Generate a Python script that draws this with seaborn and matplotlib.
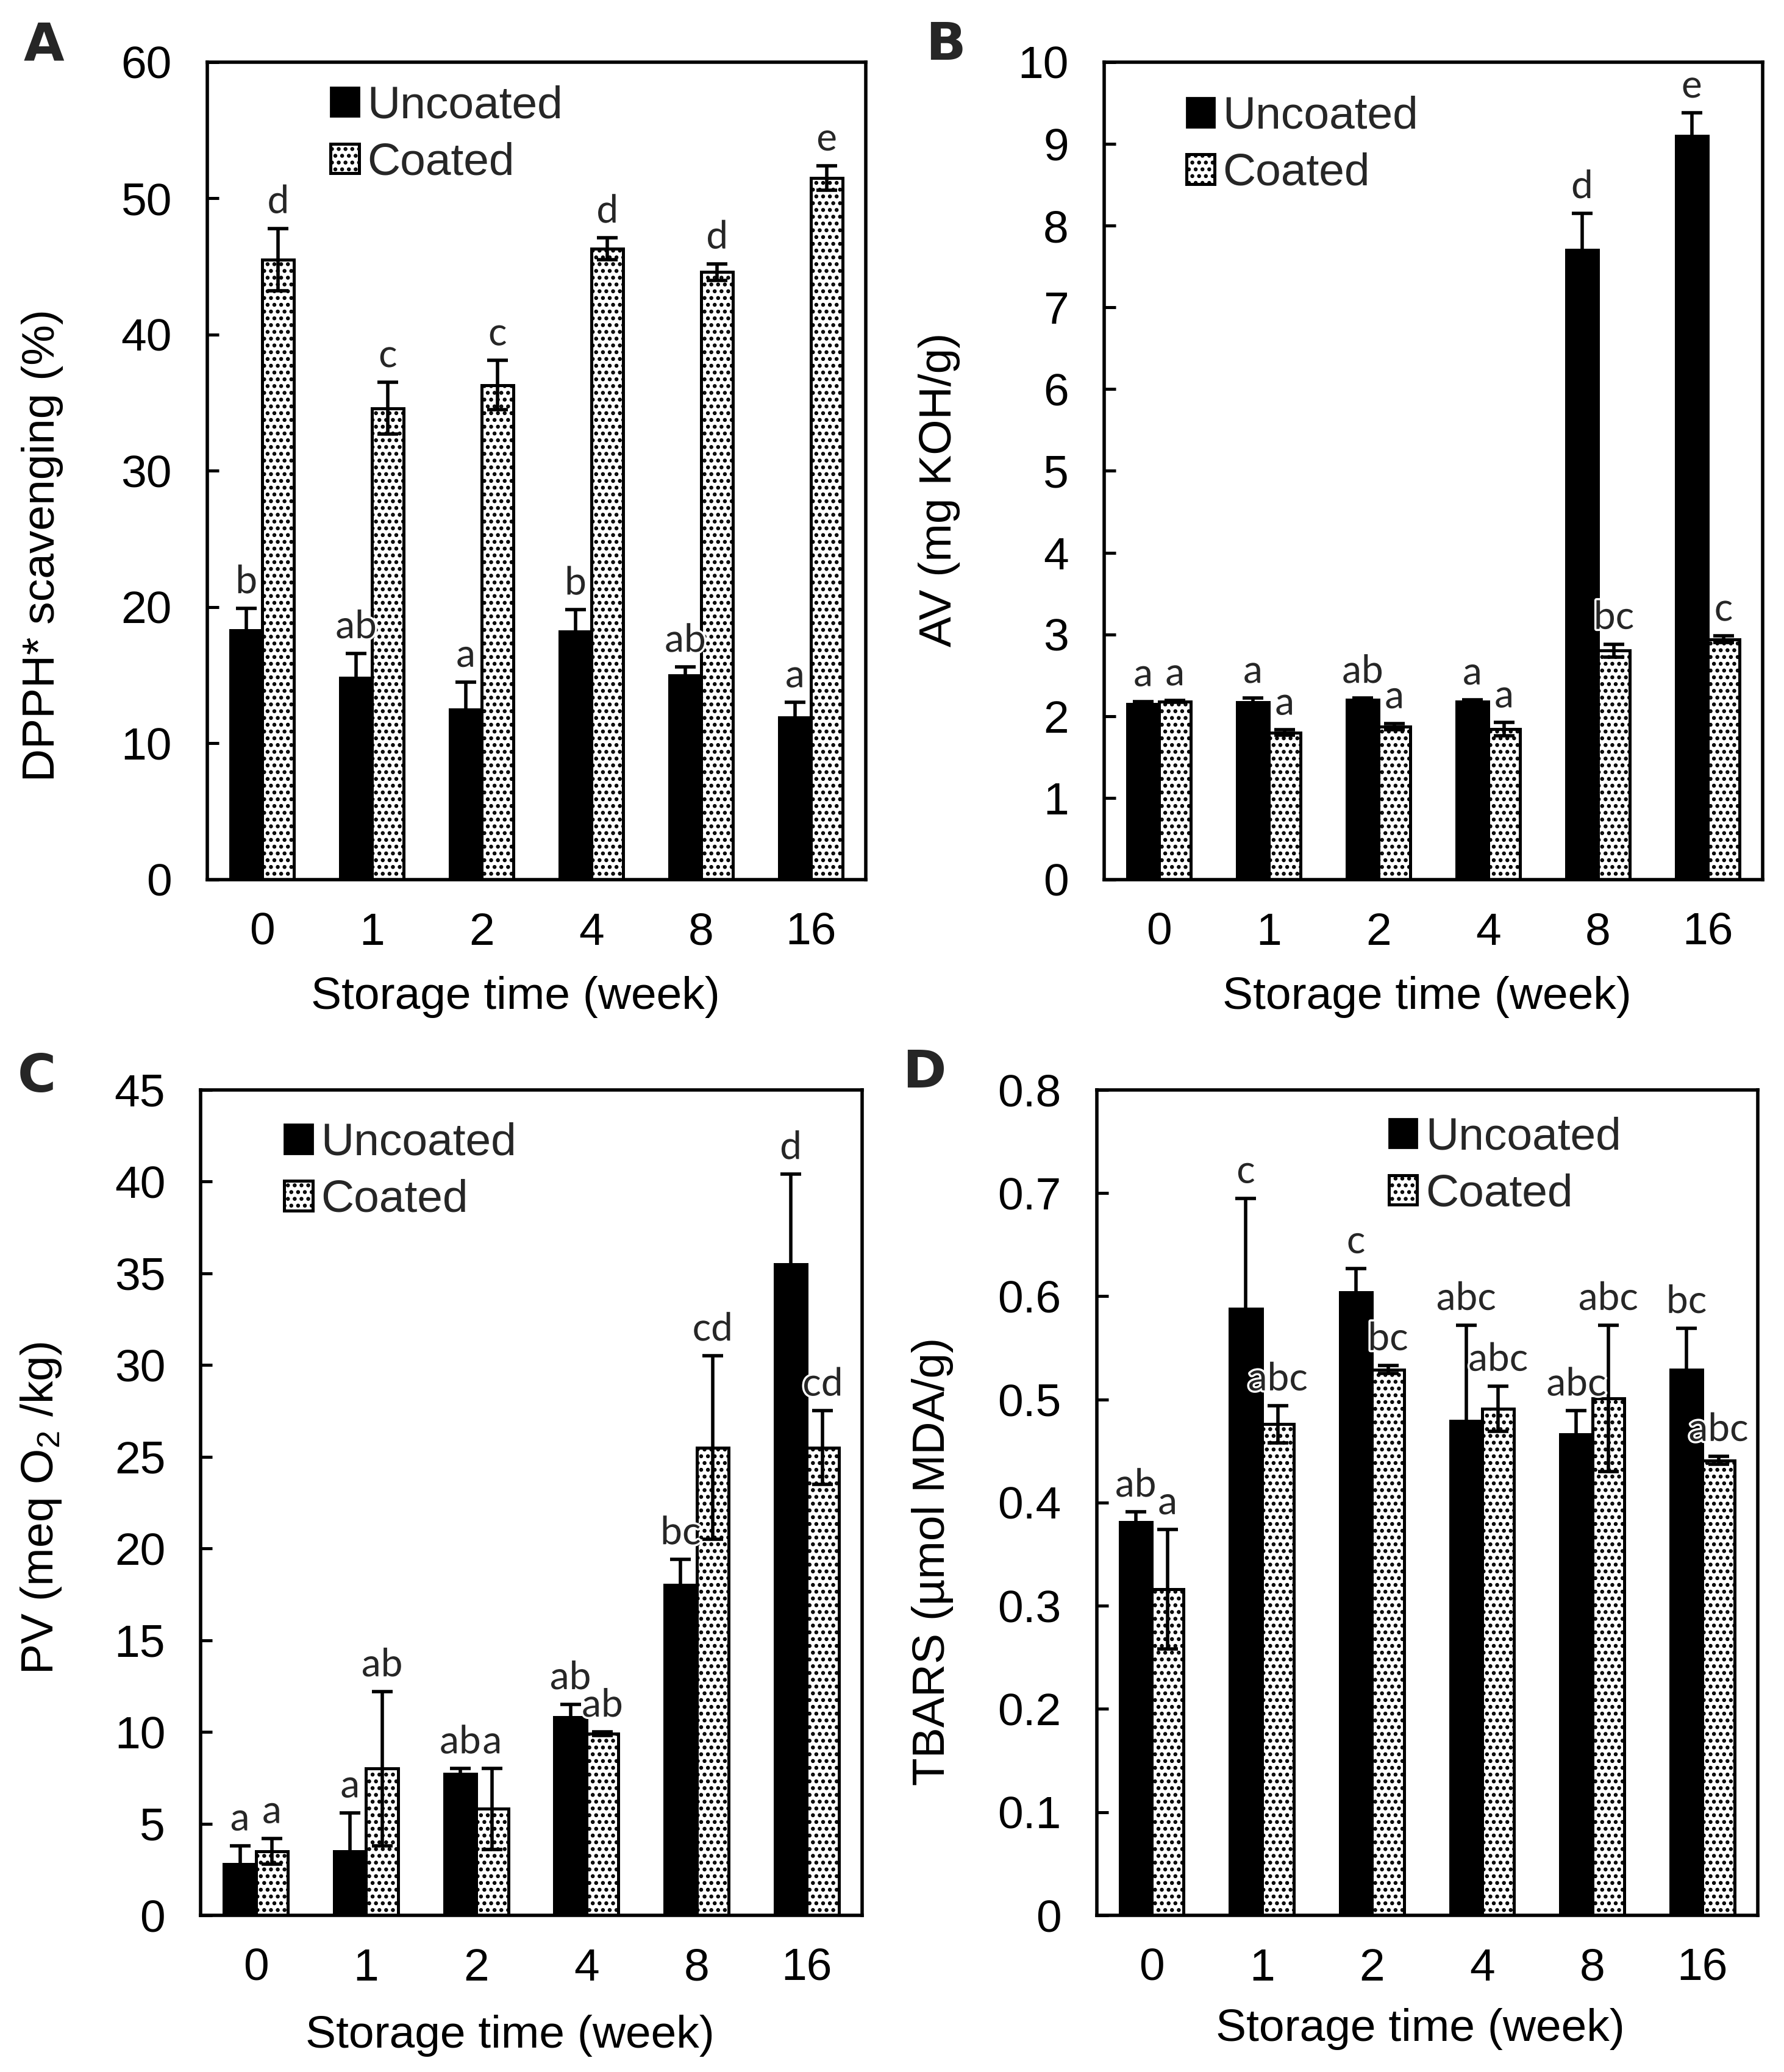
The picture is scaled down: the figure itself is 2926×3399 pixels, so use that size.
import numpy as np
import pandas as pd
import matplotlib
matplotlib.use("Agg")
import matplotlib.pyplot as plt
import matplotlib.patheffects as pe
import seaborn as sns
from matplotlib.patches import Patch
from matplotlib.ticker import MultipleLocator, FuncFormatter

weeks = ["0", "1", "2", "4", "8", "16"]
treatments = ["Uncoated", "Coated"]

# A - DPPH* scavenging (%)
dpph_unc = [18.3, 14.8, 12.5, 18.2, 15.0, 11.9]
dpph_unc_err = [1.6, 1.8, 2.0, 1.6, 0.6, 1.1]
dpph_coat = [45.5, 34.6, 36.3, 46.3, 44.6, 51.5]
dpph_coat_err = [2.3, 1.9, 1.8, 0.8, 0.6, 0.9]
dpph_unc_let = ["b", "ab", "a", "b", "ab", "a"]
dpph_coat_let = ["d", "c", "c", "d", "d", "e"]

# B - AV (mg KOH/g)
av_unc = [2.15, 2.17, 2.20, 2.18, 7.70, 9.10]
av_unc_err = [0.03, 0.05, 0.02, 0.02, 0.45, 0.28]
av_coat = [2.18, 1.80, 1.87, 1.84, 2.80, 2.94]
av_coat_err = [0.01, 0.03, 0.04, 0.08, 0.08, 0.04]
av_unc_let = ["a", "a", "ab", "a", "d", "e"]
av_coat_let = ["a", "a", "a", "a", "bc", "c"]

# C - PV (meq O2/kg)
pv_unc = [2.8, 3.5, 7.7, 10.8, 18.0, 35.5]
pv_unc_err = [1.0, 2.1, 0.3, 0.7, 1.4, 4.9]
pv_coat = [3.5, 8.0, 5.8, 9.9, 25.5, 25.5]
pv_coat_err = [0.7, 4.2, 2.2, 0.1, 5.0, 2.0]
pv_unc_let = ["a", "a", "ab", "ab", "bc", "d"]
pv_coat_let = ["a", "ab", "a", "ab", "cd", "cd"]

# D - TBARS (umol MDA/g)
tb_unc = [0.381, 0.588, 0.604, 0.479, 0.466, 0.529]
tb_unc_err = [0.010, 0.107, 0.023, 0.093, 0.023, 0.040]
tb_coat = [0.316, 0.476, 0.529, 0.491, 0.501, 0.441]
tb_coat_err = [0.058, 0.018, 0.004, 0.022, 0.071, 0.004]
tb_unc_let = ["ab", "c", "c", "abc", "abc", "bc"]
tb_coat_let = ["a", "abc", "bc", "abc", "abc", "abc"]

sns.set_theme(style="white")
plt.rcParams["font.family"] = ["Liberation Sans", "DejaVu Sans"]
plt.rcParams["mathtext.default"] = "regular"
plt.rcParams["hatch.linewidth"] = 1.5
plt.rcParams["hatch.color"] = "black"

FS = 27


def draw_panel(ax, unc, unc_err, coat, coat_err, unc_let, coat_let,
               ymax, ystep, ylabel, leg_xy, ylab_xy, xlab_xy):
    df = pd.DataFrame({
        "week": weeks * 2,
        "treatment": ["Uncoated"] * len(weeks) + ["Coated"] * len(weeks),
        "value": list(unc) + list(coat),
    })
    sns.barplot(data=df, x="week", y="value", hue="treatment",
                order=weeks, hue_order=treatments,
                palette={"Uncoated": "black", "Coated": "white"},
                width=0.58, gap=0, errorbar=None, edgecolor="black",
                linewidth=1.8, legend=False, ax=ax, zorder=2)
    bars = list(ax.containers[:2])
    for b in bars[1]:
        b.set_hatch("...")

    for cont, err, let in zip(bars, [unc_err, coat_err], [unc_let, coat_let]):
        xs = [b.get_x() + b.get_width() / 2 for b in cont]
        ys = [b.get_height() for b in cont]
        ax.errorbar(xs, ys, yerr=err, fmt="none", ecolor="black",
                    elinewidth=2.0, capsize=6, capthick=2.0, zorder=3)
        for x, y, e, t in zip(xs, ys, err, let):
            ax.annotate(t, (x, y + e), xytext=(0, 9), textcoords="offset points",
                        ha="center", va="baseline", fontsize=23,
                        family=["Lato", "DejaVu Sans"], zorder=4,
                        path_effects=[pe.withStroke(linewidth=2.5, foreground="white")])

    ax.set_ylim(0, ymax)
    ax.set_xlim(-0.5, len(weeks) - 0.5)
    ax.yaxis.set_major_locator(MultipleLocator(ystep))
    ax.yaxis.set_major_formatter(FuncFormatter(lambda v, p: f"{v:g}"))
    ax.tick_params(axis="y", direction="in", length=7, width=1.8, pad=21,
                   labelsize=FS, colors="black", left=True)
    ax.tick_params(axis="x", length=0, pad=19, labelsize=FS, colors="black")
    for s in ax.spines.values():
        s.set_visible(True)
        s.set_color("black")
        s.set_linewidth(2.0)

    ax.set_xlabel("Storage time (week)", fontsize=FS, color="black")
    ax.set_ylabel(ylabel, fontsize=FS, color="black")
    ax.xaxis.set_label_coords(*xlab_xy)
    ax.yaxis.set_label_coords(*ylab_xy)

    handles = [Patch(facecolor="black", edgecolor="black", label="Uncoated"),
               Patch(facecolor="white", edgecolor="black", hatch="...",
                     linewidth=1.8, label="Coated")]
    ax.legend(handles=handles, loc="upper left", bbox_to_anchor=leg_xy,
              frameon=False, fontsize=FS, handlelength=0.62, handleheight=0.62,
              handletextpad=0.18, labelspacing=0.32, borderpad=0,
              borderaxespad=0)


fig = plt.figure(figsize=(14.63, 16.995), dpi=200)
ax_a = fig.add_axes([0.1163, 0.5755, 0.369, 0.3945])
ax_b = fig.add_axes([0.6190, 0.5755, 0.369, 0.3945])
ax_c = fig.add_axes([0.1126, 0.0756, 0.3705, 0.3984])
ax_d = fig.add_axes([0.6147, 0.0756, 0.3705, 0.3984])

draw_panel(ax_a, dpph_unc, dpph_unc_err, dpph_coat, dpph_coat_err,
           dpph_unc_let, dpph_coat_let, 60, 10, "DPPH* scavenging (%)",
           (0.187, 0.972), (-0.219, 0.409), (0.468, -0.118))
draw_panel(ax_b, av_unc, av_unc_err, av_coat, av_coat_err,
           av_unc_let, av_coat_let, 10, 1, "AV (mg KOH/g)",
           (0.1245, 0.959), (-0.219, 0.477), (0.49, -0.118))
draw_panel(ax_c, pv_unc, pv_unc_err, pv_coat, pv_coat_err,
           pv_unc_let, pv_coat_let, 45, 5, "PV (meq O$_2$ /kg)",
           (0.126, 0.961), (-0.208, 0.493), (0.468, -0.12))
draw_panel(ax_d, tb_unc, tb_unc_err, tb_coat, tb_coat_err,
           tb_unc_let, tb_coat_let, 0.8, 0.1, "TBARS (µmol MDA/g)",
           (0.442, 0.968), (-0.216, 0.429), (0.49, -0.112))

for lab, x, y in [("A", 0.0245, 0.978), ("B", 0.530, 0.978),
                  ("C", 0.0207, 0.480), ("D", 0.518, 0.482)]:
    fig.text(x, y, lab, fontsize=31, fontweight="heavy", ha="center", va="center",
             family=["DejaVu Sans"])

fig.savefig("out.png", dpi=200, facecolor="white")
